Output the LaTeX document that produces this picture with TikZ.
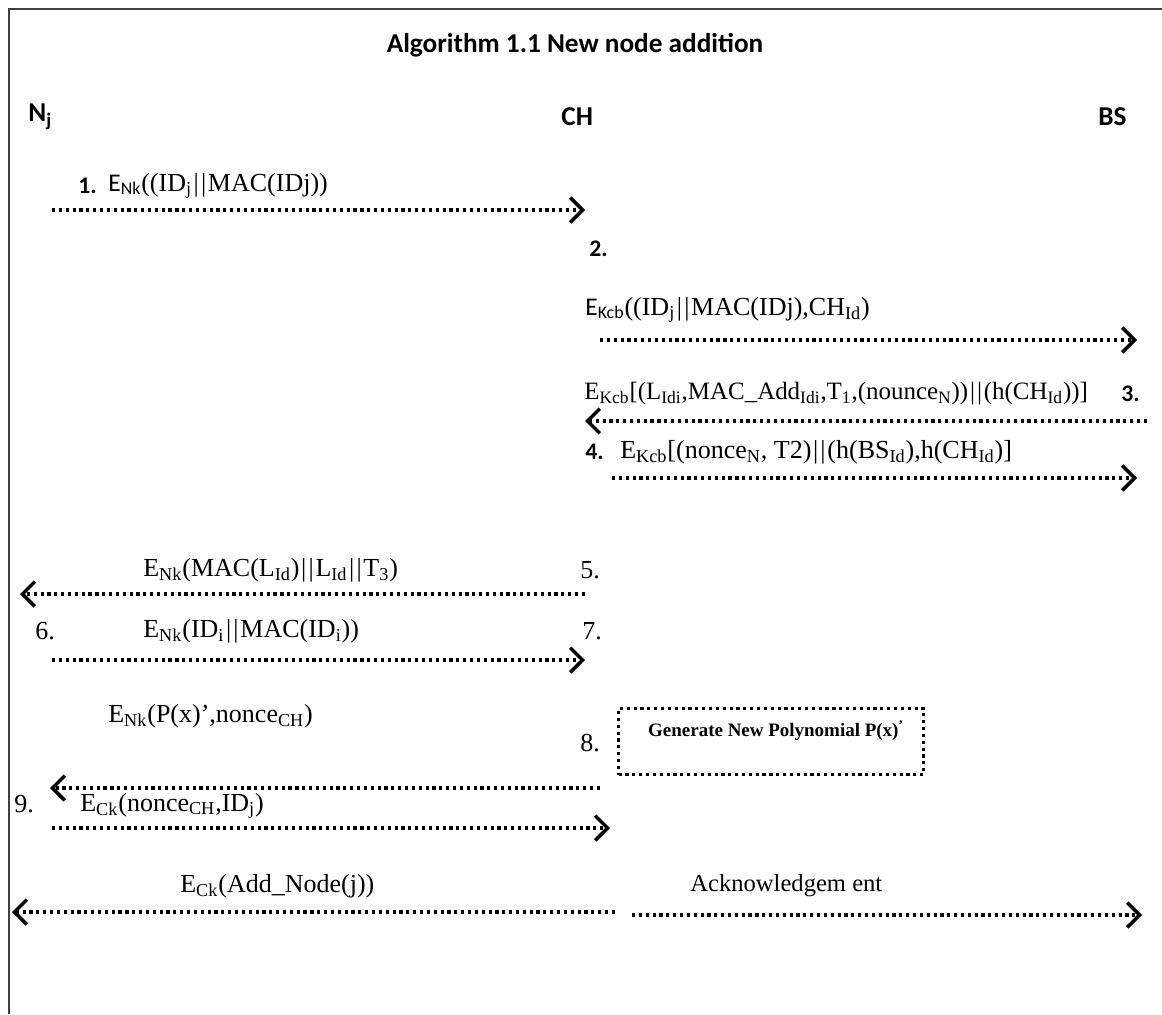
\documentclass[tikz,border=0pt]{standalone}
\usepackage{fontspec}
\setmainfont{Liberation Serif}
\newfontfamily\calfont{Carlito}
\usetikzlibrary{arrows.meta}

\newcommand{\sub}[1]{\textsubscript{#1}}
\newcommand{\dbar}{\kern1pt|\kern1.2pt|\kern1pt}
\newcommand{\ekey}{\calfont\fontsize{14.5}{16}\selectfont}

\tikzset{
  msg/.style={line width=1.8pt, dash pattern=on 1.8pt off 2.1pt,
    -{Straight Barb[length=7pt,width=14pt,line width=2pt]}},
  who/.style={inner sep=0pt, font=\calfont\bfseries\fontsize{15.5}{17}\selectfont},
  num/.style={anchor=west, inner sep=0pt, font=\calfont\bfseries\fontsize{13.5}{15}\selectfont},
  lbl/.style={anchor=west, inner sep=0pt, font=\fontsize{14.8}{17}\selectfont},
}

\begin{document}
\begin{tikzpicture}[x=0.02cm,y=-0.02cm]
		\useasboundingbox (0,0) rectangle (1162,1014);
		%%%%% FRAME %%%%%
		\draw[line width=1.6pt, black!75] (9,1014) -- (9,9) -- (1162,9);
		
		\node[who] (title) at (575,45) {Algorithm 1.1 New node addition};
		\node[who, anchor=west] (nj) at (28,117) {N\sub{j}};
		\node[who, anchor=west] (ch) at (561,117) {CH};
		\node[who, anchor=west] (bs) at (1098,117) {BS};
		
		%%%%% 1 %%%%%
		\node[num] (n1) at (78,186) {1.};
		\node[lbl] (l1) at (108,186) {{\ekey E\sub{Nk}}((ID\sub{j}\dbar MAC(IDj))};
		\coordinate (a1s) at (52,210);
		\coordinate (a1e) at (585,210);
		\draw[msg] (a1s) -- (a1e);
		
		%%%%% 2 %%%%%
		\node[num] (n2) at (589,249) {2.};
		\node[lbl] (l2) at (585,310) {{\ekey E\sub{Kcb}}((ID\sub{j}\dbar MAC(IDj),CH\sub{Id})};
		\coordinate (a2s) at (600,340);
		\coordinate (a2e) at (1137,340);
		\draw[msg] (a2s) -- (a2e);
		
		%%%%% 3 %%%%%
		\node[lbl, font=\fontsize{14.2}{17}\selectfont] (l3) at (584,394) {E\sub{Kcb}[(L\sub{Idi},MAC\_Add\sub{Idi},T\sub{1},(nounce\sub{N}))\dbar(h(CH\sub{Id}))]};
		\node[num] (n3) at (1121,394) {3.};
		\coordinate (a3s) at (1147,421);
		\coordinate (a3e) at (585,421);
		\draw[msg] (a3s) -- (a3e);
		
		%%%%% 4 %%%%%
		\node[num] (n4) at (585,452) {4.};
		\node[lbl] (l4) at (620,452) {E\sub{Kcb}[(nonce\sub{N}, T2)\dbar(h(BS\sub{Id}),h(CH\sub{Id})]};
		\coordinate (a4s) at (612,478);
		\coordinate (a4e) at (1137,478);
		\draw[msg] (a4s) -- (a4e);
		
		%%%%% 5 %%%%%
		\node[lbl] (l5) at (143,570) {E\sub{Nk}(MAC(L\sub{Id})\dbar L\sub{Id}\dbar T\sub{3})};
		\node[lbl] (n5) at (580,570) {5.};
		\coordinate (a5s) at (585,594);
		\coordinate (a5e) at (20,594);
		\draw[msg] (a5s) -- (a5e);
		
		%%%%% 6, 7 %%%%%
		\node[lbl] (n6) at (35,631) {6.};
		\node[lbl] (l6) at (143,631) {E\sub{Nk}(ID\sub{i}\dbar MAC(ID\sub{i}))};
		\node[lbl] (n7) at (582,631) {7.};
		\coordinate (a6s) at (52,660);
		\coordinate (a6e) at (585,660);
		\draw[msg] (a6s) -- (a6e);
		
		%%%%% 8 %%%%%
		\node[lbl] (l8) at (108,716) {E\sub{Nk}(P(x)’,nonce\sub{CH})};
		\node[lbl] (n8) at (580,743) {8.};
		\node[draw, line width=1.8pt, dash pattern=on 1.8pt off 2.1pt, minimum width=305*0.02cm,
		  minimum height=66*0.02cm, anchor=north west, inner sep=0pt] (gen) at (617,707) {};
		\node[inner sep=0pt, font=\bfseries\fontsize{10.8}{12}\selectfont] (gtxt) at (776,731)
		  {Generate New Polynomial P(x)\textsuperscript{’}};
		\coordinate (a8s) at (600,788);
		\coordinate (a8e) at (50,788);
		\draw[msg] (a8s) -- (a8e);
		
		%%%%% 9 %%%%%
		\node[lbl] (n9) at (14,804) {9.};
		\node[lbl] (l9) at (80,806) {E\sub{Ck}(nonce\sub{CH},ID\sub{j})};
		\coordinate (a9s) at (52,828);
		\coordinate (a9e) at (610,828);
		\draw[msg] (a9s) -- (a9e);
		
		%%%%% ACK %%%%%
		\node[lbl] (l10) at (180,886) {E\sub{Ck}(Add\_Node(j))};
		\node[lbl, font=\fontsize{14}{16}\selectfont] (ack) at (690,886) {Acknowledgem ent};
		\coordinate (a10s) at (615,912);
		\coordinate (a10e) at (12,912);
		\draw[msg] (a10s) -- (a10e);
		\coordinate (a11s) at (632,915);
		\coordinate (a11e) at (1142,915);
		\draw[msg] (a11s) -- (a11e);
		%%%%% END %%%%%
\end{tikzpicture}
\end{document}
